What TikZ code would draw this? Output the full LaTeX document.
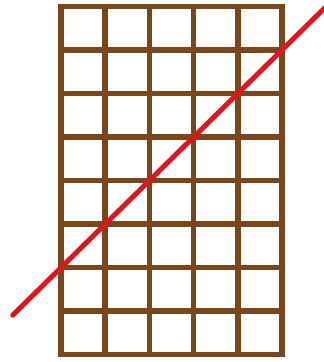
\documentclass[tikz,border=0pt]{standalone}
\definecolor{gridbrown}{RGB}{122,70,28}
\definecolor{cutred}{RGB}{222,22,30}
\tikzset{
  gridline/.style={draw=gridbrown, line width=5.5pt, line cap=rect},
  cutline/.style={draw=cutred, line width=5pt, line cap=round}
}
\begin{document}
\begin{tikzpicture}[x=1pt,y=-1pt]
\clip (0,0) rectangle (324,362);
\fill[white] (0,0) rectangle (324,362);
% grid: 5 columns x 8 rows
\foreach \i in {0,...,5} {
  \draw[gridline] ({61+44.2*\i},6.7) -- ({61+44.2*\i},354.5);
}
\foreach \j in {0,...,8} {
  \draw[gridline] (61,{6.7+43.475*\j}) -- (282,{6.7+43.475*\j});
}
% red line
\coordinate (a) at (12.7,315.2);
\coordinate (b) at (328,4.7);
\draw[cutline] (a) -- (b);
\end{tikzpicture}
\end{document}
